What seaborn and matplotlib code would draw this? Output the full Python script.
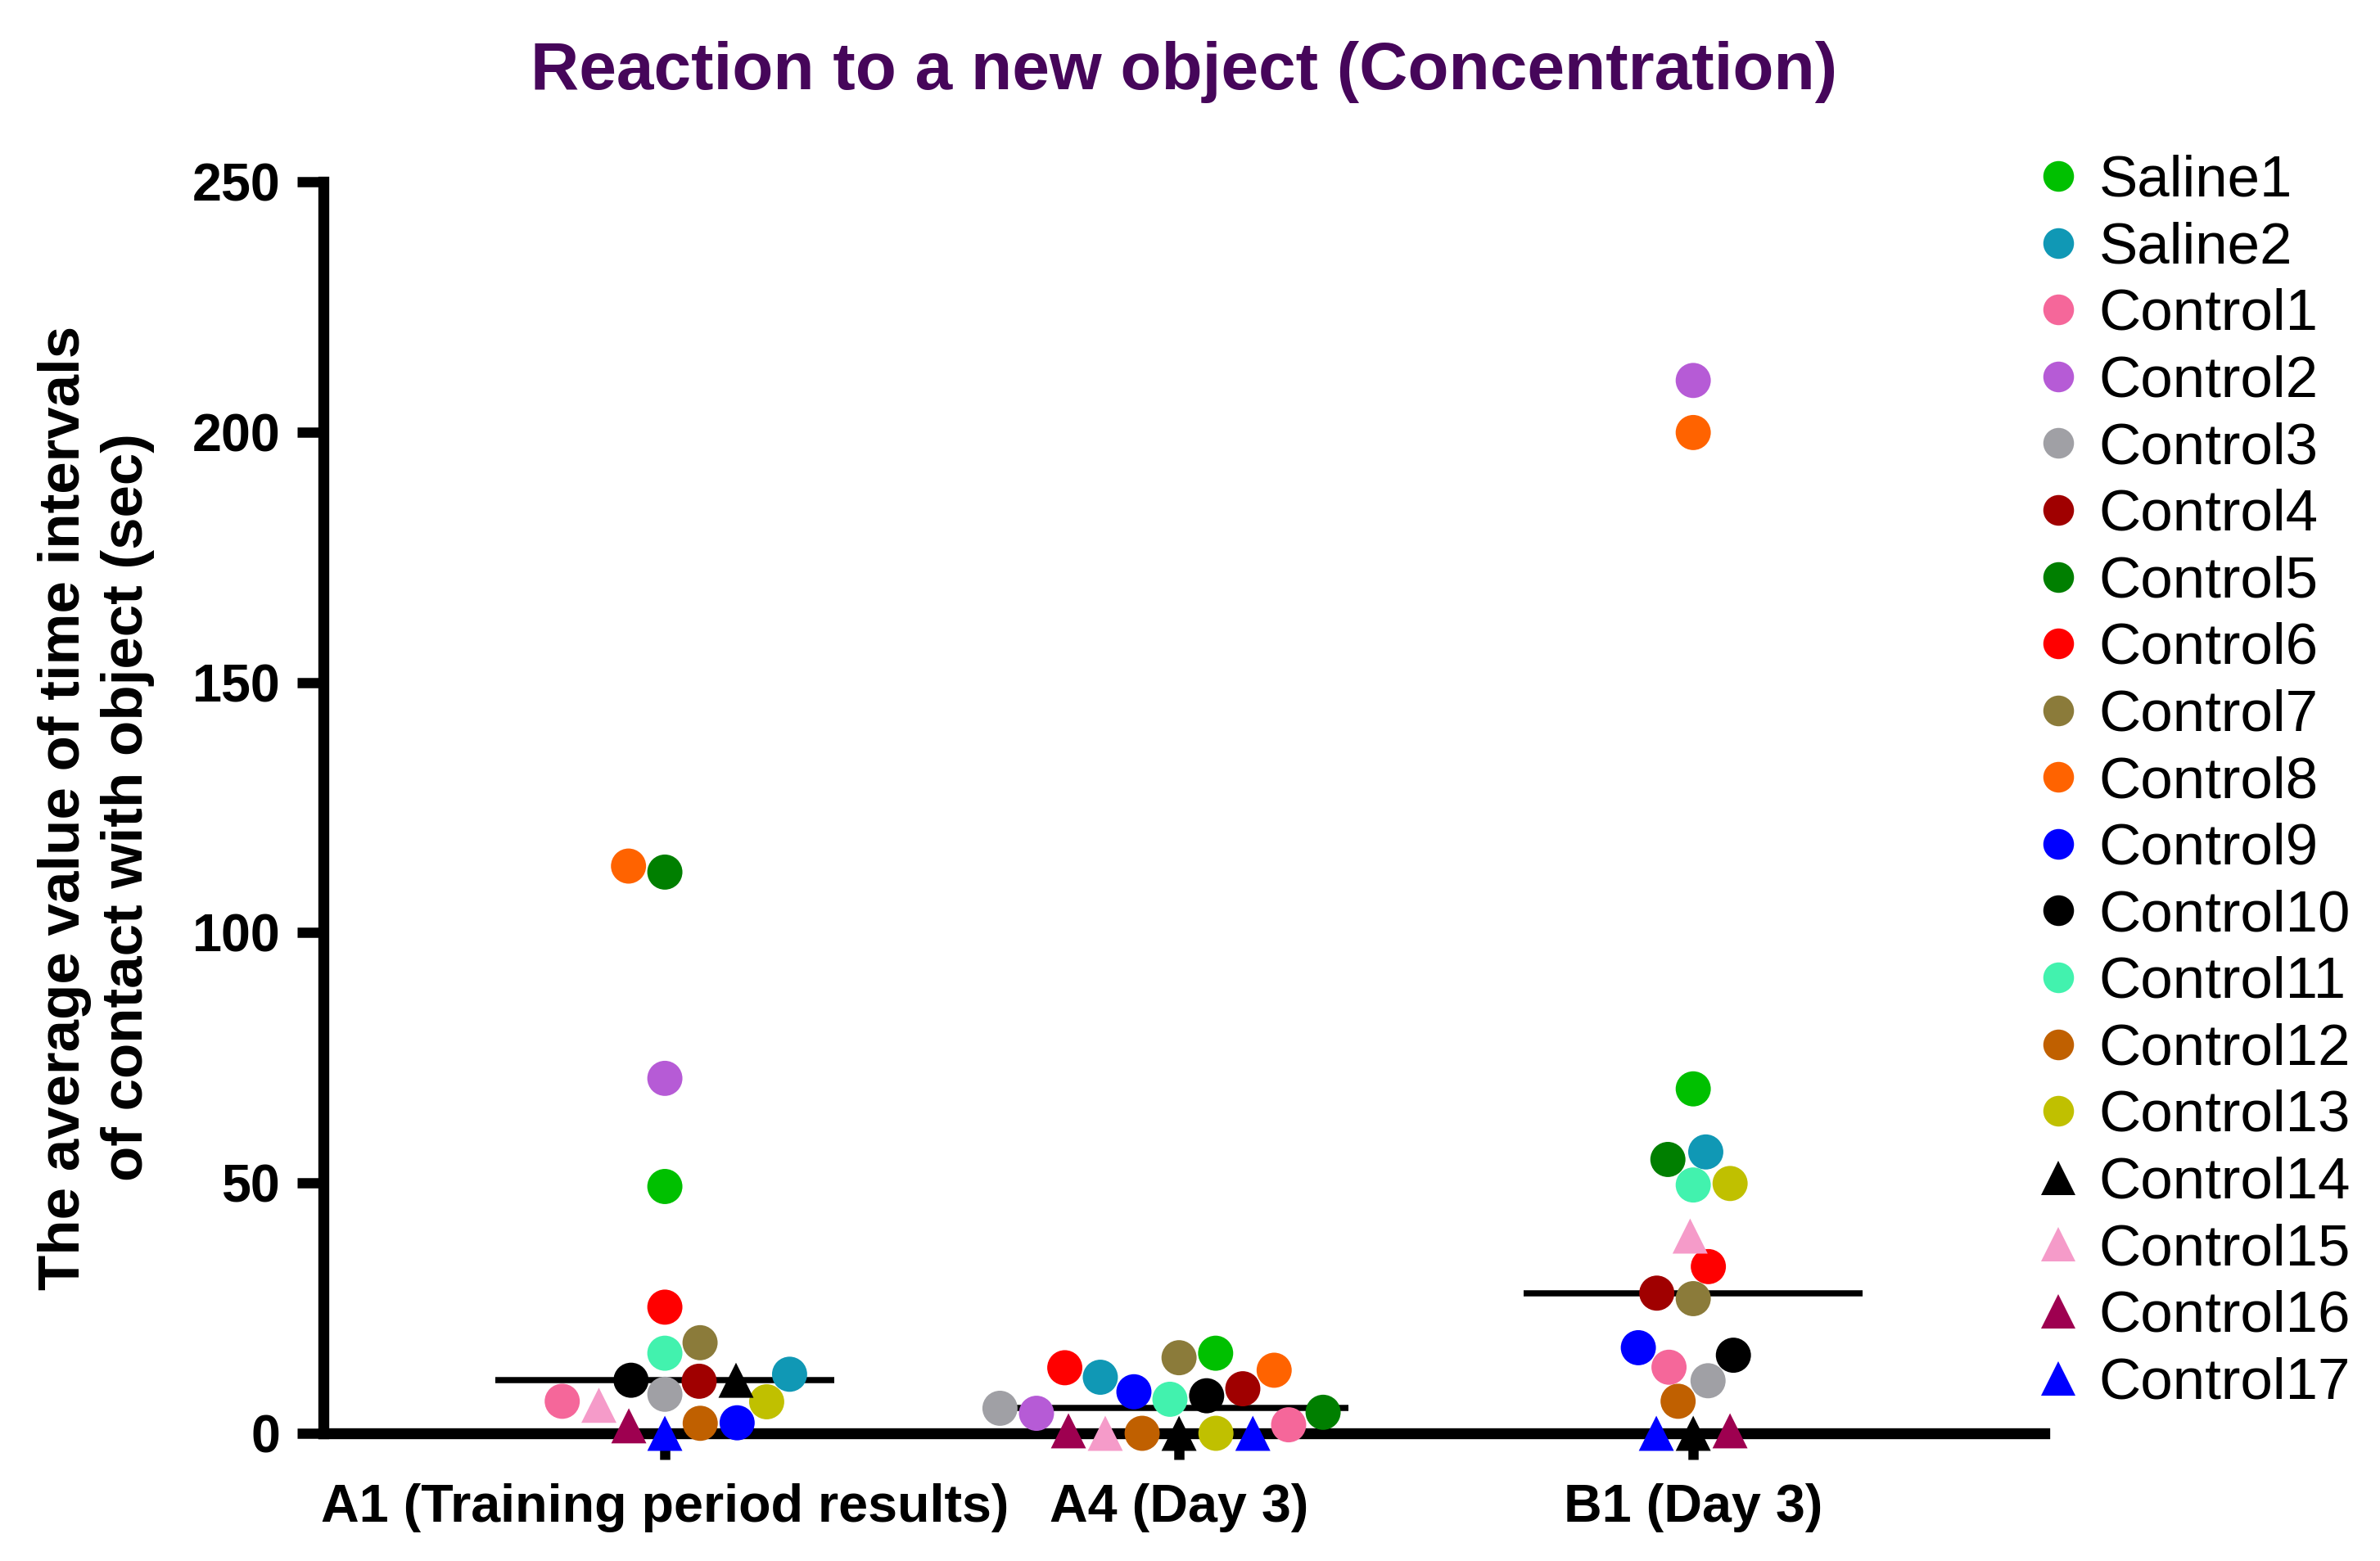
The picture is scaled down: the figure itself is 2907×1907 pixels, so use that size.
import numpy as np
import pandas as pd
import seaborn as sns
import matplotlib.pyplot as plt
from matplotlib.lines import Line2D
from matplotlib.markers import MarkerStyle

# categories and subjects
groups = ["A1 (Training period results)", "A4 (Day 3)", "B1 (Day 3)"]
subjects = ["Saline1", "Saline2"] + [f"Control{i}" for i in range(1, 18)]

# values (sec), subject order as above
a1_vals = [49.3, 11.8, 6.4, 70.9, 7.8, 10.4, 112.1, 25.2, 18.1, 113.3,
           2.1, 10.6, 16.0, 2.0, 6.3, 10.6, 5.6, 1.5, 0.0]
a4_vals = [16.0, 11.2, 1.7, 4.0, 5.0, 8.9, 4.2, 13.1, 15.1, 12.6,
           8.3, 7.5, 6.8, 0.0, 0.0, 0.0, 0.0, 0.5, 0.0]
b1_vals = [68.8, 56.2, 13.2, 210.3, 10.5, 28.0, 54.7, 33.3, 26.9, 199.9,
           17.1, 15.6, 49.6, 6.4, 49.9, 0.0, 39.4, 0.5, 0.0]

colors = ["#00C000", "#1098B5", "#F5679A", "#B65BD6", "#A0A0A5", "#A00000",
          "#007F00", "#FF0000", "#8B7B3A", "#FF6300", "#0000FF", "#000000",
          "#42F2AE", "#C06000", "#C0C000", "#000000", "#F59BC9", "#9E0050",
          "#0000FF"]
markers = ["o"] * 15 + ["^"] * 4

df = pd.DataFrame({
    "group": np.repeat(groups, len(subjects)),
    "subject": subjects * len(groups),
    "value": a1_vals + a4_vals + b1_vals,
})
palette = dict(zip(subjects, colors))

sns.set_style("white")
plt.rcParams["font.family"] = ["Liberation Sans", "DejaVu Sans"]
plt.rcParams["text.color"] = "black"
plt.rcParams["axes.labelcolor"] = "black"
plt.rcParams["xtick.color"] = "black"
plt.rcParams["ytick.color"] = "black"

fig = plt.figure(figsize=(2907 / 300, 1907 / 300), dpi=300)
ax = fig.add_axes([0.1359, 0.0818, 0.7231, 0.8018])

# median bars
sns.boxplot(data=df, x="group", y="value", order=groups, ax=ax, width=0.66,
            showbox=False, showcaps=False, showfliers=False,
            whiskerprops={"visible": False},
            medianprops={"color": "black", "linewidth": 1.8, "zorder": 2})

n_before = len(ax.collections)
sns.swarmplot(data=df, x="group", y="value", hue="subject", order=groups,
              hue_order=subjects, palette=palette, size=10.3, linewidth=0,
              legend=False, ax=ax, warn_thresh=1)
swarms = ax.collections[n_before:]


def marker_path(m):
    ms = MarkerStyle(m)
    return ms.get_path().transformed(ms.get_transform())


for coll in swarms:
    coll.set_paths([marker_path(m) for m in markers])
    coll.set_clip_on(False)
    coll.set_zorder(3)

ax.set_xlim(-0.664, 2.683)
ax.set_ylim(0, 250)
ax.set_yticks([0, 50, 100, 150, 200, 250])

for side in ["top", "right"]:
    ax.spines[side].set_visible(False)
for side in ["left", "bottom"]:
    ax.spines[side].set_linewidth(3.2)
    ax.spines[side].set_color("black")

ax.tick_params(axis="both", bottom=True, left=True, direction="out",
               length=7.7, width=3.0, color="black", labelcolor="black",
               labelsize=15.5, pad=5)
ax.tick_params(axis="x", pad=7)
for lab in ax.get_xticklabels() + ax.get_yticklabels():
    lab.set_fontweight("bold")

ax.set_xlabel("")
ax.set_ylabel("The average value of time intervals\nof contact with object (sec)",
              fontsize=17, fontweight="bold", labelpad=11, color="black")
ax.set_title("Reaction to a new object (Concentration)", fontsize=19.7,
             fontweight="bold", color="#46065A", pad=27)

handles = []
for name, c, m in zip(subjects, colors, markers):
    handles.append(Line2D([], [], linestyle="none", marker=m, color=c,
                          markersize=9 if m == "o" else 10, markeredgewidth=0))
fig.legend(handles=handles, labels=subjects, loc="upper left",
           bbox_to_anchor=(0.855, 0.901), frameon=False, fontsize=17,
           handlelength=0.8, handletextpad=0.3, labelspacing=0.22,
           borderpad=0, borderaxespad=0)

fig.savefig("out.png", dpi=300)
